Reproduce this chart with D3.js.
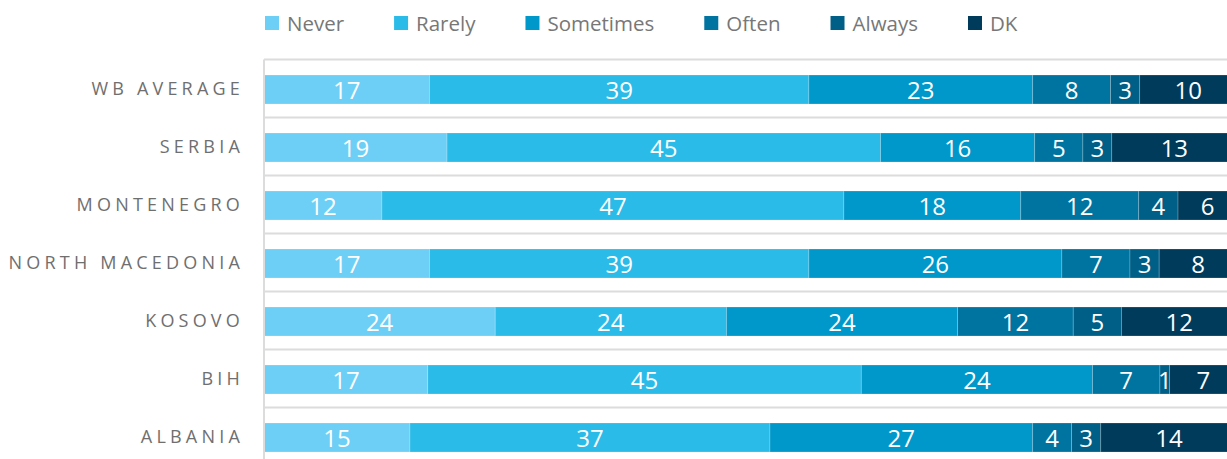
<!DOCTYPE html>
<html><head><meta charset="utf-8">
<script src="https://cdn.jsdelivr.net/npm/d3@7"></script>
<style>
html,body{margin:0;padding:0;background:#fff;overflow:hidden}
svg{display:block}
</style></head>
<body>
<svg id="chart" width="1227" height="459"></svg>
<script>
const categories = ["WB AVERAGE","SERBIA","MONTENEGRO","NORTH MACEDONIA","KOSOVO","BIH","ALBANIA"];
const seriesNames = ["Never","Rarely","Sometimes","Often","Always","DK"];
const never     = [17,19,12,17,24,17,15];
const rarely    = [39,45,47,39,24,45,37];
const sometimes = [23,16,18,26,24,24,27];
const often     = [8,5,12,7,12,7,4];
const always    = [3,3,4,3,5,1,3];
const dk        = [10,13,6,8,12,7,14];
const colors = ["#6dcff6","#2bbbe8","#0098cb","#0074a1","#005f87","#003b5b"];

const seriesValues = [never, rarely, sometimes, often, always, dk];
const rows = categories.map((c, i) => {
  const o = {cat: c};
  seriesNames.forEach((s, j) => o[s] = seriesValues[j][i]);
  o.total = d3.sum(seriesNames, s => o[s]);
  return o;
});
// normalised (100% stacked) rows
const normRows = rows.map(r => {
  const o = {cat: r.cat, raw: r};
  seriesNames.forEach(s => o[s] = r[s] / r.total * 100);
  return o;
});
const stacked = d3.stack().keys(seriesNames)(normRows);

const svg = d3.select("#chart");
const mLeft = 264, mRight = 1237, mTop = 59.5, band = 58;
const x = d3.scaleLinear().domain([0,100]).range([mLeft, mRight]);
const y = d3.scaleBand().domain(categories).range([mTop, mTop + band*categories.length]).padding(0);
const color = d3.scaleOrdinal().domain(seriesNames).range(colors);
const barH = 29;

// gridlines at band boundaries
const bounds = categories.map(c => y(c)).concat([y(categories[categories.length-1]) + y.bandwidth()]);
svg.append("g").selectAll("line").data(bounds).join("line")
  .attr("x1", mLeft).attr("x2", 1227)
  .attr("y1", d => d).attr("y2", d => d)
  .attr("stroke", "#dcdcdc").attr("stroke-width", 2);

// bars
const g = svg.append("g");
stacked.forEach(layer => {
  const key = layer.key;
  const lg = g.append("g");
  lg.selectAll("rect").data(layer).join("rect")
    .attr("x", d => x(d[0]))
    .attr("width", d => x(d[1]) - x(d[0]))
    .attr("y", d => y(d.data.cat) + (y.bandwidth() - barH)/2 + 1)
    .attr("height", barH)
    .attr("fill", color(key))
    .attr("stroke", "rgba(255,255,255,0.25)")
    .attr("stroke-width", 0.8);
  lg.selectAll("text").data(layer).join("text")
    .attr("x", d => (x(d[0]) + x(d[1]))/2)
    .attr("y", d => y(d.data.cat) + y.bandwidth()/2 + 1.5)
    .attr("dy", "0.36em")
    .attr("text-anchor", "middle")
    .attr("fill", "#fff")
    .style("font-family", "'Open Sans', sans-serif")
    .style("font-size", "24px")
    .text(d => d.data.raw[key]);
});

// y axis line
svg.append("line").attr("x1", mLeft).attr("x2", mLeft)
  .attr("y1", mTop).attr("y2", 459)
  .attr("stroke", "#dcdcdc").attr("stroke-width", 2);

// category labels
svg.append("g").selectAll("text").data(categories).join("text")
  .attr("x", 244)
  .attr("y", d => y(d) + y.bandwidth()/2)
  .attr("dy", "0.36em")
  .attr("text-anchor", "end")
  .attr("fill", "#6f6f6f")
  .style("font-family", "'Open Sans', sans-serif")
  .style("font-size", "18px")
  .style("letter-spacing", "4.2px")
  .text(d => d);

// legend
const legend = svg.append("g");
let lx = 265;
seriesNames.forEach((s, i) => {
  legend.append("rect").attr("x", lx).attr("y", 16).attr("width", 14).attr("height", 14).attr("fill", colors[i]);
  const t = legend.append("text").attr("x", lx + 22).attr("y", 31)
    .attr("fill", "#777")
    .style("font-family", "'Open Sans', sans-serif")
    .style("font-size", "20.5px")
    .text(s);
  const w = t.node().getComputedTextLength();
  lx = lx + 22 + w + 50;
});
</script>
</body></html>
